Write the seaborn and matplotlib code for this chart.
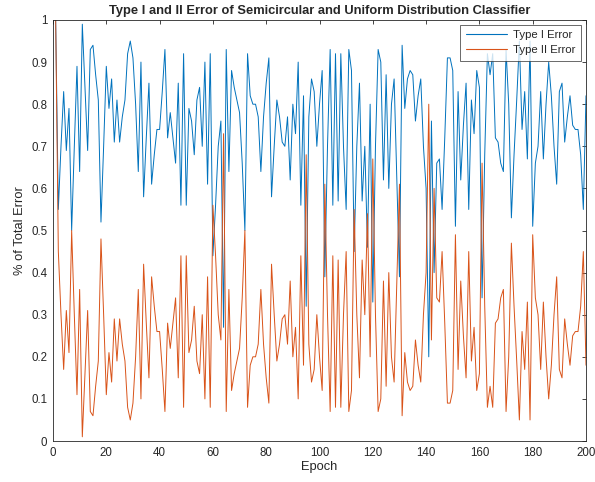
import numpy as np
import pandas as pd
import matplotlib
matplotlib.use("Agg")
import matplotlib.pyplot as plt
import seaborn as sns

epochs = list(range(1, 201))

type1_error = [
    1.00, 0.55, 0.70, 0.83, 0.69, 0.79, 0.50, 0.70, 0.89, 0.64,
    0.99, 0.84, 0.69, 0.93, 0.94, 0.87, 0.81, 0.52, 0.70, 0.89,
    0.79, 0.86, 0.71, 0.81, 0.71, 0.77, 0.81, 0.92, 0.95, 0.91,
    0.80, 0.64, 0.90, 0.58, 0.72, 0.85, 0.61, 0.68, 0.74, 0.74,
    0.83, 0.93, 0.72, 0.78, 0.72, 0.66, 0.85, 0.56, 0.92, 0.56,
    0.79, 0.76, 0.68, 0.81, 0.84, 0.70, 0.90, 0.61, 0.92, 0.44,
    0.56, 0.70, 0.76, 0.27, 0.93, 0.64, 0.88, 0.84, 0.81, 0.78,
    0.66, 0.50, 0.92, 0.82, 0.80, 0.80, 0.77, 0.64, 0.77, 0.85,
    0.91, 0.58, 0.70, 0.81, 0.77, 0.71, 0.70, 0.77, 0.62, 0.80,
    0.73, 0.90, 0.56, 0.82, 0.32, 0.77, 0.86, 0.83, 0.70, 0.80,
    0.88, 0.39, 0.70, 0.93, 0.56, 0.92, 0.57, 0.92, 0.70, 0.55,
    0.93, 0.88, 0.45, 0.70, 0.85, 0.57, 0.70, 0.46, 0.80, 0.33,
    0.70, 0.93, 0.90, 0.62, 0.87, 0.60, 0.80, 0.86, 0.62, 0.39,
    0.94, 0.79, 0.86, 0.88, 0.87, 0.76, 0.82, 0.86, 0.70, 0.60,
    0.20, 0.76, 0.40, 0.66, 0.67, 0.55, 0.72, 0.91, 0.91, 0.88,
    0.51, 0.83, 0.62, 0.75, 0.85, 0.55, 0.81, 0.73, 0.88, 0.84,
    0.34, 0.68, 0.92, 0.87, 0.92, 0.72, 0.71, 0.66, 0.64, 0.93,
    0.80, 0.53, 0.68, 0.81, 0.95, 0.74, 0.83, 0.67, 0.95, 0.51,
    0.66, 0.70, 0.83, 0.67, 0.80, 0.90, 0.82, 0.70, 0.61, 0.83,
    0.85, 0.71, 0.77, 0.82, 0.75, 0.74, 0.74, 0.68, 0.55, 0.82,
]

type2_error = [
    1.00, 0.45, 0.30, 0.17, 0.31, 0.21, 0.50, 0.30, 0.11, 0.36,
    0.01, 0.16, 0.31, 0.07, 0.06, 0.13, 0.19, 0.48, 0.30, 0.11,
    0.21, 0.14, 0.29, 0.19, 0.29, 0.23, 0.19, 0.08, 0.05, 0.09,
    0.20, 0.36, 0.10, 0.42, 0.28, 0.15, 0.39, 0.32, 0.26, 0.26,
    0.17, 0.07, 0.28, 0.22, 0.28, 0.34, 0.15, 0.44, 0.08, 0.44,
    0.21, 0.24, 0.32, 0.19, 0.16, 0.30, 0.10, 0.39, 0.08, 0.56,
    0.44, 0.30, 0.24, 0.73, 0.07, 0.36, 0.12, 0.16, 0.19, 0.22,
    0.34, 0.50, 0.08, 0.18, 0.20, 0.20, 0.23, 0.36, 0.23, 0.15,
    0.09, 0.42, 0.30, 0.19, 0.23, 0.29, 0.30, 0.23, 0.38, 0.20,
    0.27, 0.10, 0.44, 0.18, 0.68, 0.23, 0.14, 0.17, 0.30, 0.20,
    0.12, 0.61, 0.30, 0.07, 0.44, 0.08, 0.43, 0.08, 0.30, 0.45,
    0.07, 0.12, 0.55, 0.30, 0.15, 0.43, 0.30, 0.54, 0.20, 0.67,
    0.30, 0.07, 0.10, 0.38, 0.13, 0.40, 0.20, 0.14, 0.38, 0.61,
    0.06, 0.21, 0.14, 0.12, 0.13, 0.24, 0.18, 0.14, 0.30, 0.40,
    0.80, 0.24, 0.60, 0.34, 0.33, 0.45, 0.28, 0.09, 0.09, 0.12,
    0.49, 0.17, 0.38, 0.25, 0.15, 0.45, 0.19, 0.27, 0.12, 0.16,
    0.66, 0.32, 0.08, 0.13, 0.08, 0.28, 0.29, 0.34, 0.36, 0.07,
    0.20, 0.47, 0.32, 0.19, 0.05, 0.26, 0.17, 0.33, 0.05, 0.49,
    0.34, 0.30, 0.17, 0.33, 0.20, 0.10, 0.18, 0.30, 0.39, 0.17,
    0.15, 0.29, 0.23, 0.18, 0.25, 0.26, 0.26, 0.32, 0.45, 0.18,
]

series_names = ["Type I Error", "Type II Error"]
series_colors = ["#0072BD", "#D95319"]
x_ticks = list(range(0, 201, 20))
y_ticks = [0, 0.1, 0.2, 0.3, 0.4, 0.5, 0.6, 0.7, 0.8, 0.9, 1]
y_tick_labels = ["0", "0.1", "0.2", "0.3", "0.4", "0.5", "0.6", "0.7", "0.8", "0.9", "1"]

df = pd.DataFrame({
    "Epoch": epochs + epochs,
    "Error": type1_error + type2_error,
    "Series": [series_names[0]] * len(epochs) + [series_names[1]] * len(epochs),
})

sns.set_style("white")
plt.rcParams['font.family'] = ['Liberation Sans', 'DejaVu Sans']

fig = plt.figure(figsize=(5.95, 4.82), dpi=100)
ax = fig.add_axes([53 / 595, 1 - 441 / 482, 533 / 595, 421 / 482])

sns.lineplot(data=df, x="Epoch", y="Error", hue="Series",
             palette=series_colors, linewidth=0.7, ax=ax)

ax.set_xlim(0, 200)
ax.set_ylim(0, 1)
ax.set_xticks(x_ticks)
ax.set_xticklabels([str(t) for t in x_ticks])
ax.set_yticks(y_ticks)
ax.set_yticklabels(y_tick_labels)
ax.tick_params(direction='in', top=True, right=True, length=3, width=0.6,
               color='#262626', labelsize=8.3, labelcolor='#262626', pad=4)
for s in ax.spines.values():
    s.set_color('#262626')
    s.set_linewidth(0.6)

ax.set_title("Type I and II Error of Semicircular and Uniform Distribution Classifier",
             fontsize=9.3, fontweight='bold', pad=4)
ax.set_xlabel("Epoch", fontsize=9.3, color='#262626', labelpad=2)
ax.set_ylabel("% of Total Error", fontsize=9.3, color='#262626', labelpad=4)

leg = ax.legend(loc='upper right', fontsize=8.2, frameon=True, fancybox=False,
                edgecolor='#262626', handlelength=3.6, borderpad=0.45,
                labelspacing=0.45, handletextpad=0.6, borderaxespad=0.45)
leg.get_frame().set_linewidth(0.6)
for line in leg.get_lines():
    line.set_linewidth(0.8)

fig.savefig("out.png", dpi=100)
